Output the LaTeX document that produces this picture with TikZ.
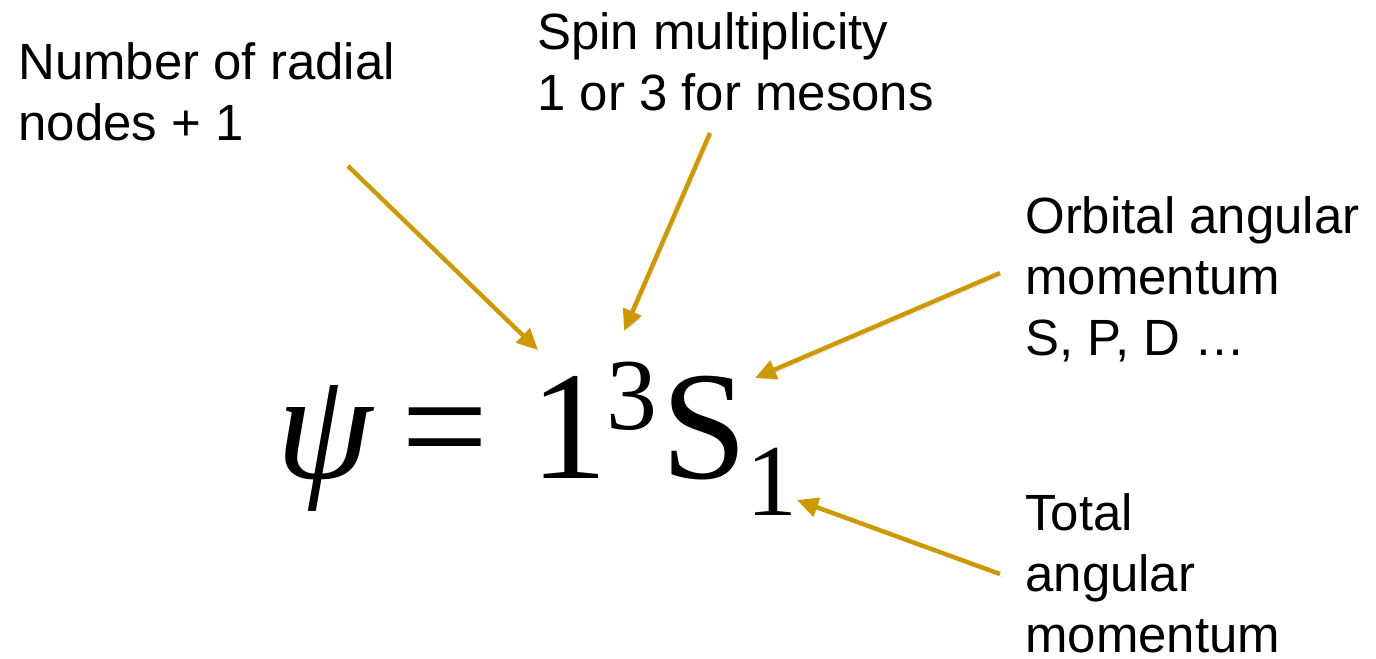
\documentclass[tikz,border=0pt]{standalone}
\usepackage{fontspec}
\setmainfont{Liberation Sans}
\newfontfamily\termfont{Liberation Serif}
\definecolor{arrowgold}{RGB}{205,153,0}
\usetikzlibrary{arrows.meta}
\tikzset{
  note/.style={anchor=base west,inner sep=0pt,align=left,
               font=\fontsize{29}{34.5}\selectfont},
  pointer/.style={-{Triangle[length=12pt,width=11pt]},line width=2.5pt,
                  arrowgold,
                  preaction={draw=black!12,
                             transform canvas={shift={(1pt,-1.5pt)}}}},
  term/.style={anchor=base west,inner sep=0pt,
               font=\termfont\fontsize{88}{88}\selectfont},
  index/.style={anchor=base west,inner sep=0pt,
                font=\termfont\fontsize{58}{58}\selectfont},
}
\begin{document}
\begin{tikzpicture}[x=0.02cm,y=-0.02cm]
  \useasboundingbox (0,0) rectangle (1376,659);
  \node[note] (radial) at (18,140) {Number of radial\\nodes + 1};
  \node[note] (spin) at (537,110) {Spin multiplicity\\1 or 3 for mesons};
  \node[note] (orbital) at (1025,355) {Orbital angular\\momentum\\S, P, D …};
  \node[note] (total) at (1025,652) {Total\\angular\\momentum};
  \node[term] (psi) at (276,478) {\itshape ψ};
  \node[term] (equals) at (401,478) {=};
  \node[term] (radial number) at (530,478) {1};
  \node[index] (multiplicity) at (606,429) {3};
  \node[term] (orbital letter) at (661,478) {S};
  \node[index] (total j) at (746,515) {1};
  \coordinate (radial tail) at (348,166);
  \coordinate (radial tip) at (538,350);
  \coordinate (spin tail) at (710,133);
  \coordinate (spin tip) at (624,331);
  \coordinate (orbital tail) at (1000,273);
  \coordinate (orbital tip) at (755,378);
  \coordinate (total tail) at (1000,574);
  \coordinate (total tip) at (797,500);
  \draw[pointer] (radial tail) -- (radial tip);
  \draw[pointer] (spin tail) -- (spin tip);
  \draw[pointer] (orbital tail) -- (orbital tip);
  \draw[pointer] (total tail) -- (total tip);
\end{tikzpicture}
\end{document}
